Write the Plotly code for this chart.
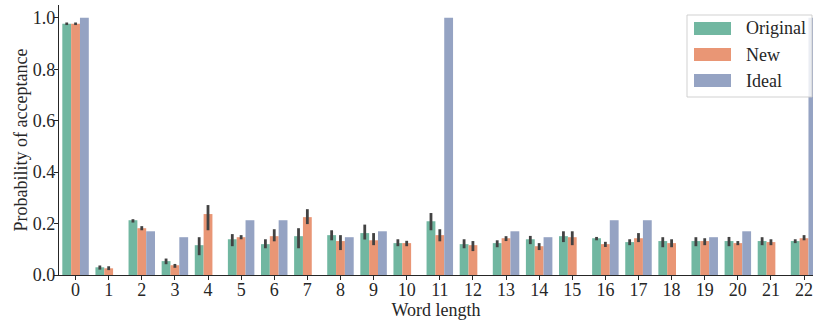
import plotly.graph_objects as go

word_lengths = list(range(23))
tick_labels = [str(i) for i in word_lengths]

original = [0.977, 0.030, 0.213, 0.054, 0.116, 0.139, 0.120, 0.151, 0.155, 0.163, 0.124, 0.209,
            0.120, 0.124, 0.139, 0.151, 0.143, 0.128, 0.132, 0.132, 0.132, 0.132, 0.132]
original_lo = [0.972, 0.021, 0.204, 0.042, 0.077, 0.112, 0.104, 0.104, 0.135, 0.138, 0.112, 0.174,
               0.104, 0.108, 0.120, 0.128, 0.135, 0.116, 0.108, 0.112, 0.112, 0.116, 0.124]
original_hi = [0.982, 0.037, 0.217, 0.064, 0.147, 0.159, 0.139, 0.182, 0.174, 0.196, 0.139, 0.241,
               0.139, 0.135, 0.152, 0.170, 0.148, 0.139, 0.147, 0.147, 0.148, 0.147, 0.139]

new = [0.977, 0.026, 0.182, 0.038, 0.237, 0.147, 0.151, 0.225, 0.132, 0.135, 0.124, 0.155,
       0.116, 0.143, 0.112, 0.147, 0.120, 0.143, 0.124, 0.132, 0.124, 0.128, 0.143]
new_lo = [0.972, 0.019, 0.174, 0.028, 0.174, 0.139, 0.131, 0.198, 0.097, 0.116, 0.112, 0.131,
          0.093, 0.132, 0.097, 0.116, 0.109, 0.128, 0.108, 0.116, 0.116, 0.116, 0.135]
new_hi = [0.982, 0.034, 0.190, 0.043, 0.272, 0.155, 0.178, 0.256, 0.155, 0.163, 0.133, 0.178,
          0.132, 0.151, 0.124, 0.170, 0.129, 0.163, 0.139, 0.143, 0.132, 0.139, 0.155]

ideal = [1.0, 0.0, 0.170, 0.147, 0.0, 0.213, 0.213, 0.0, 0.147, 0.170, 0.0, 1.0,
         0.0, 0.170, 0.147, 0.0, 0.213, 0.213, 0.0, 0.147, 0.170, 0.0, 1.0]

series_names = ["Original", "New", "Ideal"]
colors = ["#71b7a1", "#e99675", "#95a3c3"]
err_color = "#424242"
txt = "#262626"
FONT = "'Liberation Serif', 'Times New Roman', Times, serif"
FS = 18

fig = go.Figure()


def err(vals, lo, hi):
    return dict(type="data", symmetric=False,
                array=[h - v for v, h in zip(vals, hi)],
                arrayminus=[v - l for v, l in zip(vals, lo)],
                color=err_color, thickness=2.8, width=0)


fig.add_trace(go.Bar(x=word_lengths, y=original, name=series_names[0], marker_color=colors[0],
                     marker_line_width=0, error_y=err(original, original_lo, original_hi),
                     showlegend=False))
fig.add_trace(go.Bar(x=word_lengths, y=new, name=series_names[1], marker_color=colors[1],
                     marker_line_width=0, error_y=err(new, new_lo, new_hi), showlegend=False))
fig.add_trace(go.Bar(x=word_lengths, y=ideal, name=series_names[2], marker_color=colors[2],
                     marker_line_width=0, showlegend=False))

# manual legend (matplotlib-style wide patches)
W, H = 813, 322
ml, mr, mt, mb = 59, 0, 5, 47
pw, ph = W - ml - mr, H - mt - mb


def px(x):
    return (x - ml) / pw


def py(y):
    return 1 - (y - mt) / ph


shapes = []
annotations = []
shapes.append(dict(type="rect", xref="paper", yref="paper",
                   x0=px(687), x1=px(812), y0=py(97), y1=py(15),
                   line=dict(color="rgba(204,204,204,0.9)", width=1),
                   fillcolor="rgba(255,255,255,0.8)", layer="above"))
row_y = [28.5, 54.5, 80.5]
for name, c, ry in zip(series_names, colors, row_y):
    shapes.append(dict(type="rect", xref="paper", yref="paper",
                       x0=px(694), x1=px(731), y0=py(ry + 6.5), y1=py(ry - 6.5),
                       line=dict(width=0), fillcolor=c, layer="above"))
    annotations.append(dict(text=name, xref="paper", yref="paper", x=px(744), y=py(ry),
                            xanchor="left", yanchor="middle", showarrow=False,
                            font=dict(family=FONT, size=FS, color=txt)))

fig.update_layout(
    width=W, height=H,
    margin=dict(l=ml, r=mr, t=mt, b=mb, autoexpand=False),
    paper_bgcolor="white", plot_bgcolor="white",
    barmode="group", bargap=0.2, bargroupgap=0,
    font=dict(family=FONT, size=FS, color=txt),
    shapes=shapes, annotations=annotations,
    xaxis=dict(range=[-0.5, 22.27], tickmode="array", tickvals=word_lengths, ticktext=tick_labels,
               showline=True, linecolor=txt, linewidth=1.25, ticks="outside", ticklen=4,
               tickwidth=1.25, tickcolor=txt, showgrid=False, zeroline=False, automargin=False,
               ticklabeloverflow="allow", ticklabelstandoff=-6,
               title=dict(text="Word length", standoff=0, font=dict(size=FS))),
    yaxis=dict(range=[0, 1.05], tickvals=[0, 0.2, 0.4, 0.6, 0.8, 1.0], tickformat=".1f",
               showline=True, linecolor=txt, linewidth=1.25, ticks="outside", ticklen=4,
               tickwidth=1.25, tickcolor=txt, showgrid=False, zeroline=False, automargin=False,
               ticklabelstandoff=-5,
               title=dict(text="Probability of acceptance", standoff=0, font=dict(size=FS))),
)

fig.write_html("out.html", config={"displayModeBar": False},
               post_script="document.body.style.margin='0';document.body.style.padding='0';")
